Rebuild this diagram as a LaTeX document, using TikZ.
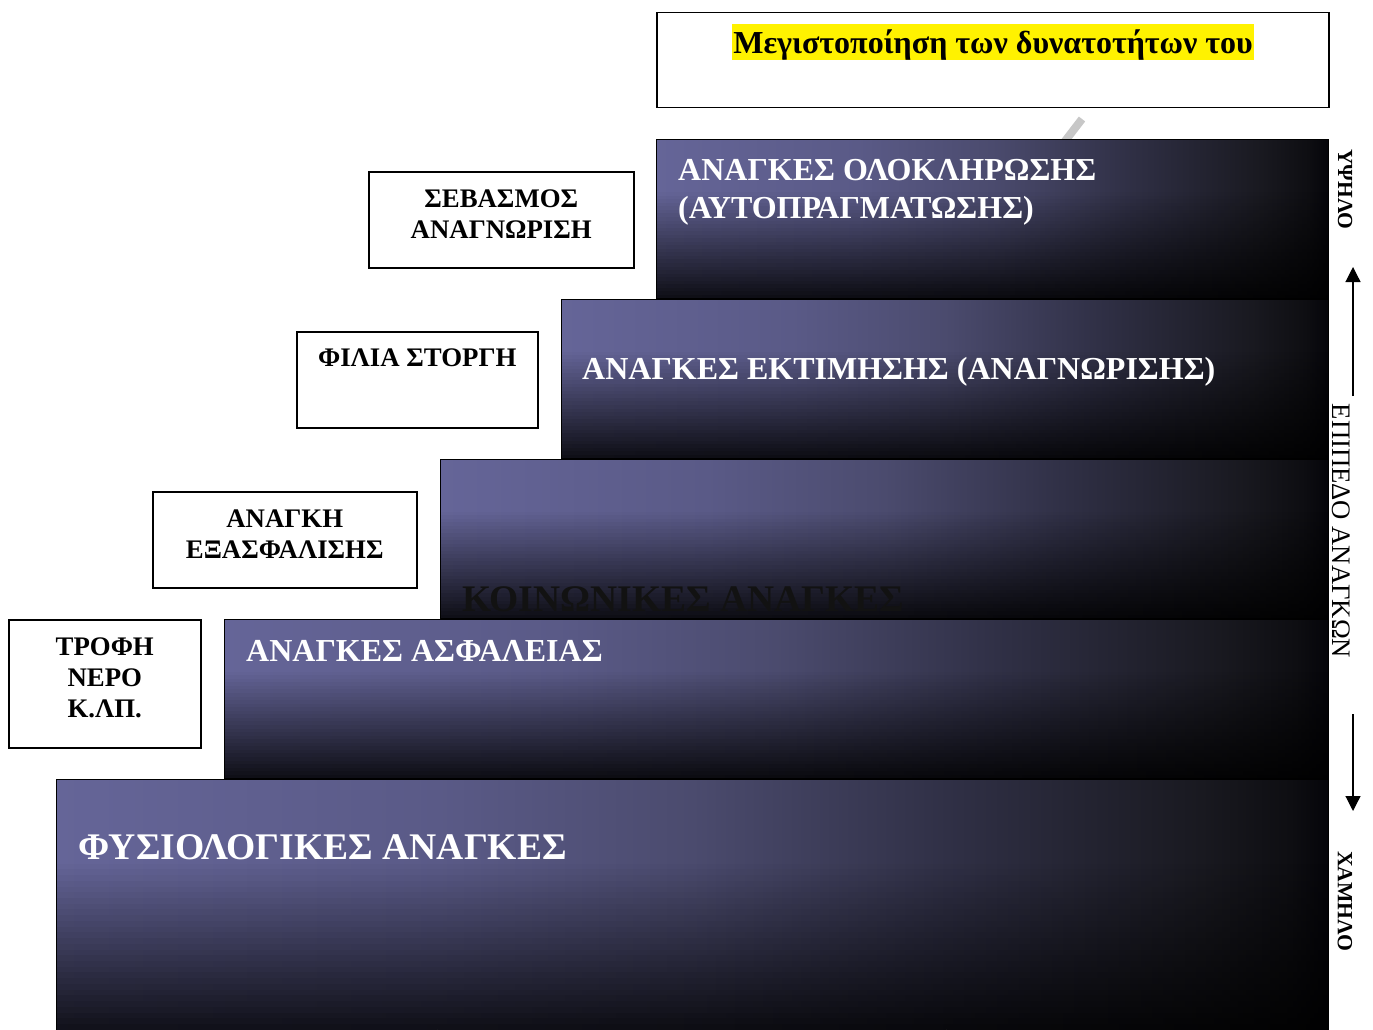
\documentclass[tikz,border=0pt]{standalone}
\usepackage{fontspec}
\setmainfont{Liberation Serif}
\usetikzlibrary{arrows.meta,calc}

% colour stops of the purple-to-black ramp across each step
\definecolor{ramp0}{RGB}{101,101,152}
\definecolor{ramp1}{RGB}{90,90,135}
\definecolor{ramp2}{RGB}{75,75,110}
\definecolor{ramp3}{RGB}{48,48,70}
\definecolor{ramp4}{RGB}{25,25,32}
\definecolor{ramp5}{RGB}{14,14,18}
\definecolor{ramp6}{RGB}{5,5,10}

\begin{document}
\begin{tikzpicture}[x=1pt,y=-1pt,
  stepbox/.style={inner sep=0pt, anchor=north west},
  whitebox/.style={draw=black, line width=1.5pt, fill=white, inner sep=0pt,
    anchor=north west},
  steptext/.style={text=white, font=\bfseries\fontsize{32}{38}\selectfont,
    inner sep=0pt, anchor=base west, align=left},
  boxtext/.style={font=\bfseries\fontsize{26.8}{31}\selectfont, inner sep=0pt,
    anchor=north, align=center},
  sidetext/.style={rotate=-90, inner sep=0pt},
  levelarrow/.style={line width=1.2pt, -{Triangle[length=15pt,width=15pt]}}]

\useasboundingbox (0,0) rectangle (1373,1030);

% top goal box
\node[whitebox, minimum width=672pt, minimum height=95pt] (goal) at (656,12) {};
\node[fill=yellow, inner xsep=1.5pt, inner ysep=0pt, text height=30pt, text depth=6pt,
  font=\bfseries\fontsize{32}{36}\selectfont, anchor=base] (goaltext)
  at (993,54) {Μεγιστοποίηση των δυνατοτήτων του};

% faint grey stroke behind the top step
\coordinate (g1) at (1082,119);
\coordinate (g2) at (1062,145);
\draw[black!22, line width=8pt] (g1) -- (g2);

% steps of the pyramid
\node[stepbox, minimum width=672pt, minimum height=158pt] (s5) at (656,140) {};
\node[stepbox, minimum width=767pt, minimum height=159pt] (s4) at (561,299) {};
\node[stepbox, minimum width=888pt, minimum height=159pt] (s3) at (440,459) {};
\node[stepbox, minimum width=1104pt, minimum height=159pt] (s2) at (224,619) {};
\node[stepbox, minimum width=1272pt, minimum height=256pt] (s1) at (56,779) {};
\foreach \s in {s1,s2,s3,s4,s5}{
  % horizontal ramp
  \foreach \a/\b/\ca/\cb in {0/0.3/ramp0/ramp1, 0.3/0.5/ramp1/ramp2,
      0.5/0.7/ramp2/ramp3, 0.7/0.9/ramp3/ramp4, 0.9/0.97/ramp4/ramp5,
      0.97/1/ramp5/ramp6}{
    \shade[left color=\ca, right color=\cb]
      ($(\s.north west)!\a!(\s.north east)$) rectangle
      ($(\s.south west)!\b!(\s.south east)$);
  }
  % darkening of the lower two thirds, in thin bands
  \foreach \k in {0,...,29}{
    \pgfmathsetmacro\fa{0.33+0.67*\k/30}
    \pgfmathsetmacro\fb{0.33+0.67*(\k+1)/30}
    \pgfmathsetmacro\op{0.86*(\k+0.5)/30}
    \fill[black, fill opacity=\op]
      ($(\s.north west)!\fa!(\s.south west)$) rectangle
      ($(\s.north east)!\fb!(\s.south east)$);
  }
  \draw[black, line width=1pt] (\s.north west) rectangle (\s.south east);
}

% step labels
\node[steptext] (t5) at (678,218) {ΑΝΑΓΚΕΣ ΟΛΟΚΛΗΡΩΣΗΣ\\(ΑΥΤΟΠΡΑΓΜΑΤΩΣΗΣ)};
\node[steptext] (t4) at (582,379) {ΑΝΑΓΚΕΣ ΕΚΤΙΜΗΣΗΣ (ΑΝΑΓΝΩΡΙΣΗΣ)};
\node[steptext, text=black!93, font=\bfseries\fontsize{37.5}{40}\selectfont] (t3)
  at (462,611) {ΚΟΙΝΩΝΙΚΕΣ ΑΝΑΓΚΕΣ};
\node[steptext] (t2) at (246,661) {ΑΝΑΓΚΕΣ ΑΣΦΑΛΕΙΑΣ};
\node[steptext, font=\bfseries\fontsize{37.6}{40}\selectfont] (t1) at (78,859)
  {ΦΥΣΙΟΛΟΓΙΚΕΣ ΑΝΑΓΚΕΣ};

% example boxes on the left
\node[whitebox, minimum width=265pt, minimum height=96pt] (b4) at (368,171) {};
\node[boxtext] (b4t) at ([yshift=-19pt]b4.north) {ΣΕΒΑΣΜΟΣ\\ΑΝΑΓΝΩΡΙΣΗ};
\node[whitebox, minimum width=241pt, minimum height=96pt] (b3) at (296,331) {};
\node[boxtext] (b3t) at ([yshift=-18pt]b3.north) {ΦΙΛΙΑ ΣΤΟΡΓΗ};
\node[whitebox, minimum width=264pt, minimum height=96pt] (b2) at (152,491) {};
\node[boxtext] (b2t) at ([yshift=-19pt]b2.north) {ΑΝΑΓΚΗ\\ΕΞΑΣΦΑΛΙΣΗΣ};
\node[whitebox, minimum width=192pt, minimum height=128pt] (b1) at (8,619) {};
\node[boxtext] (b1t) at ([yshift=-19pt]b1.north) {ΤΡΟΦΗ\\ΝΕΡΟ\\Κ.ΛΠ.};

% level scale on the right
\node[sidetext, font=\bfseries\fontsize{21.5}{24}\selectfont] (high) at (1345,189) {ΥΨΗΛΟ};
\node[sidetext, font=\fontsize{26.7}{30}\selectfont] (level) at (1341,531) {ΕΠΙΠΕΔΟ ΑΝΑΓΚΩΝ};
\node[sidetext, font=\bfseries\fontsize{21.7}{25}\selectfont] (low) at (1345,901) {ΧΑΜΗΛΟ};
\coordinate (up0) at (1353,396);
\coordinate (up1) at (1353,267);
\coordinate (dn0) at (1353,714);
\coordinate (dn1) at (1353,811);
\draw[levelarrow] (up0) -- (up1);
\draw[levelarrow] (dn0) -- (dn1);
\end{tikzpicture}
\end{document}
